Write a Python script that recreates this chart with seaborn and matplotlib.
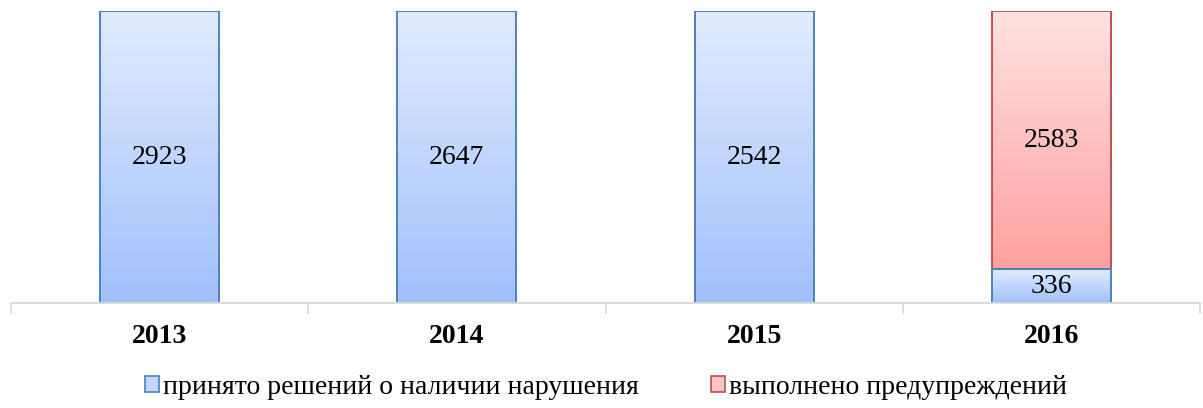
import numpy as np
import pandas as pd
import seaborn as sns
import matplotlib.pyplot as plt
from matplotlib.patches import Patch
from matplotlib.colors import LinearSegmentedColormap

# === DONNÉES ===
years = ["2013", "2014", "2015", "2016"]
decisions = [2923, 2647, 2542, 336]
warnings_done = [0, 0, 0, 2583]
label_blue = "принято решений о наличии нарушения"
label_red = "выполнено предупреждений"

df = pd.DataFrame({"year": years, "blue": decisions, "red": warnings_done})
df["total"] = df["blue"] + df["red"]
df["blue_pct"] = df["blue"] / df["total"] * 100
df["cum_pct"] = (df["blue"] + df["red"]) / df["total"] * 100

# === STYLE ===
sns.set_theme(style="white")
plt.rcParams["font.family"] = ["Liberation Serif", "DejaVu Serif"]
plt.rcParams["text.color"] = "black"

blue_cmap = LinearSegmentedColormap.from_list("b", ["#e2ecff", "#a0c0fc"])
red_cmap = LinearSegmentedColormap.from_list("r", ["#ffe2e2", "#ffa0a0"])

fig = plt.figure(figsize=(12.03, 4.08), dpi=100)
ax = fig.add_axes([11 / 1203, 105 / 408, 1189 / 1203, 292 / 408])

sns.barplot(data=df, x="year", y="cum_pct", color="#ffa3a3", width=0.4,
            saturation=1, errorbar=None, edgecolor="#c0504d", linewidth=1.4, ax=ax)
sns.barplot(data=df, x="year", y="blue_pct", color="#a3c3ff", width=0.4,
            saturation=1, errorbar=None, edgecolor="#4f81bd", linewidth=1.4, ax=ax)

red_bars = ax.patches[:4]
blue_bars = ax.patches[4:8]

# segment rouge posé sur le segment bleu
for p, b, c in zip(red_bars, df["blue_pct"], df["cum_pct"]):
    p.set_y(b)
    p.set_height(c - b)
    if c - b <= 0:
        p.set_visible(False)

# dégradé vertical dans chaque barre
grad = np.linspace(0, 1, 256).reshape(-1, 1)
for bars, cmap in [(red_bars, red_cmap), (blue_bars, blue_cmap)]:
    for p in bars:
        if not p.get_visible():
            continue
        x0, y0, w, h = p.get_x(), p.get_y(), p.get_width(), p.get_height()
        im = ax.imshow(grad, extent=[x0, x0 + w, y0, y0 + h], origin="upper",
                       aspect="auto", cmap=cmap, zorder=p.get_zorder() - 0.05,
                       interpolation="bilinear")
        im.set_clip_path(p)
        p.set_facecolor("none")

# valeurs
for p, v in zip(blue_bars, df["blue"]):
    ax.text(p.get_x() + p.get_width() / 2, p.get_y() + p.get_height() / 2, str(v),
            ha="center", va="center", fontsize=20, color="black", zorder=5)
for p, v in zip(red_bars, df["red"]):
    if v > 0:
        ax.text(p.get_x() + p.get_width() / 2, p.get_y() + p.get_height() / 2, str(v),
                ha="center", va="center", fontsize=20, color="black", zorder=5)

ax.set_xlim(-0.5, 3.5)
ax.set_ylim(0, 100)
ax.set_xlabel("")
ax.set_ylabel("")
ax.set_yticks([])
ax.set_xticks(range(4))
ax.set_xticklabels(years, fontsize=20, fontweight="bold", color="black")
ax.set_xticks([-0.5, 0.5, 1.5, 2.5, 3.5], minor=True)
ax.tick_params(axis="x", which="major", length=0, pad=15)
ax.tick_params(axis="x", which="minor", bottom=True, length=8, width=1.2, color="#d9d9d9")
for s in ["top", "left", "right"]:
    ax.spines[s].set_visible(False)
ax.spines["bottom"].set_color("#d9d9d9")
ax.spines["bottom"].set_linewidth(1.4)

handles = [Patch(facecolor="#c4d8fd", edgecolor="#4f81bd", linewidth=1.2, label=label_blue),
           Patch(facecolor="#ffc4c4", edgecolor="#c0504d", linewidth=1.2, label=label_red)]
leg = fig.legend(handles=handles, loc="center", bbox_to_anchor=(606 / 1203, 21 / 408), ncol=2,
                 frameon=False, fontsize=20, handlelength=0.5, handleheight=0.5,
                 handletextpad=0.15, columnspacing=2.6)
for t in leg.get_texts():
    t.set_color("black")

fig.savefig("out.png", dpi=100)
